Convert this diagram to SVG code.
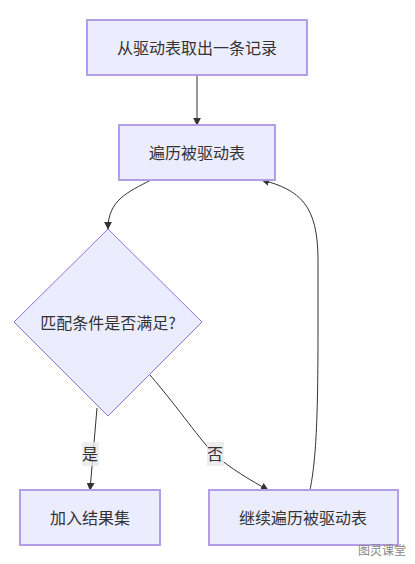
<svg xmlns="http://www.w3.org/2000/svg" width="415" height="564" viewBox="0 0 415 564">
<style>
.node{fill:#ECECFF;stroke:#b49de6;stroke-width:2}
.dia{fill:#ECECFF;stroke:#9370DB;stroke-width:1}
.t{font-family:"Noto Sans CJK SC","Liberation Sans",sans-serif;font-size:16px;fill:#333;text-anchor:middle;dominant-baseline:central}
.e{fill:none;stroke:#333;stroke-width:1}
.lb{fill:#e8e8e8;opacity:0.8}
</style>
<defs>
<marker id="arr" viewBox="0 0 10 10" refX="9" refY="5" markerWidth="8" markerHeight="8" markerUnits="userSpaceOnUse" orient="auto">
<path d="M0,0 L10,5 L0,10 z" fill="#333"/>
</marker>
</defs>
<rect width="415" height="564" fill="#fff"/>
<g id="edges">
<path class="e" d="M197,75 L197,125" marker-end="url(#arr)"/>
<path class="e" d="M151,180 C128,192 108,200 108,229" marker-end="url(#arr)"/>
<path class="e" d="M97,408 L90,490" marker-end="url(#arr)"/>
<path class="e" d="M150,375 C180,410 200,440 215,455 C230,468 250,480 268,490" marker-end="url(#arr)"/>
<path class="e" d="M310,490 C316,460 318,420 318,330 L318,260 C318,205 300,190 262,180" marker-end="url(#arr)"/>
<g id="label-yes"><rect class="lb" x="82" y="442" width="17" height="24"/><text class="t" x="90" y="453">是</text></g>
<g id="label-no"><rect class="lb" x="207" y="442" width="17" height="24"/><text class="t" x="215" y="453">否</text></g>
</g>
<g id="n1"><rect class="node" x="87" y="20" width="220" height="55"/><text class="t" x="197" y="47">从驱动表取出一条记录</text></g>
<g id="n2"><rect class="node" x="119" y="125" width="156" height="55"/><text class="t" x="197" y="152">遍历被驱动表</text></g>
<g id="n3"><polygon class="dia" points="108,229 202,322 108,416 14,322"/><text class="t" x="108" y="322">匹配条件是否满足?</text></g>
<g id="n4"><rect class="node" x="20" y="490" width="140" height="55"/><text class="t" x="90" y="517">加入结果集</text></g>
<g id="n5"><rect class="node" x="209" y="490" width="189" height="55"/><text class="t" x="303" y="517">继续遍历被驱动表</text></g>
<text x="382" y="549" style="font-family:'Noto Sans CJK SC',sans-serif;font-size:12px;fill:#888;text-anchor:middle;dominant-baseline:central">图灵课堂</text>
</svg>
